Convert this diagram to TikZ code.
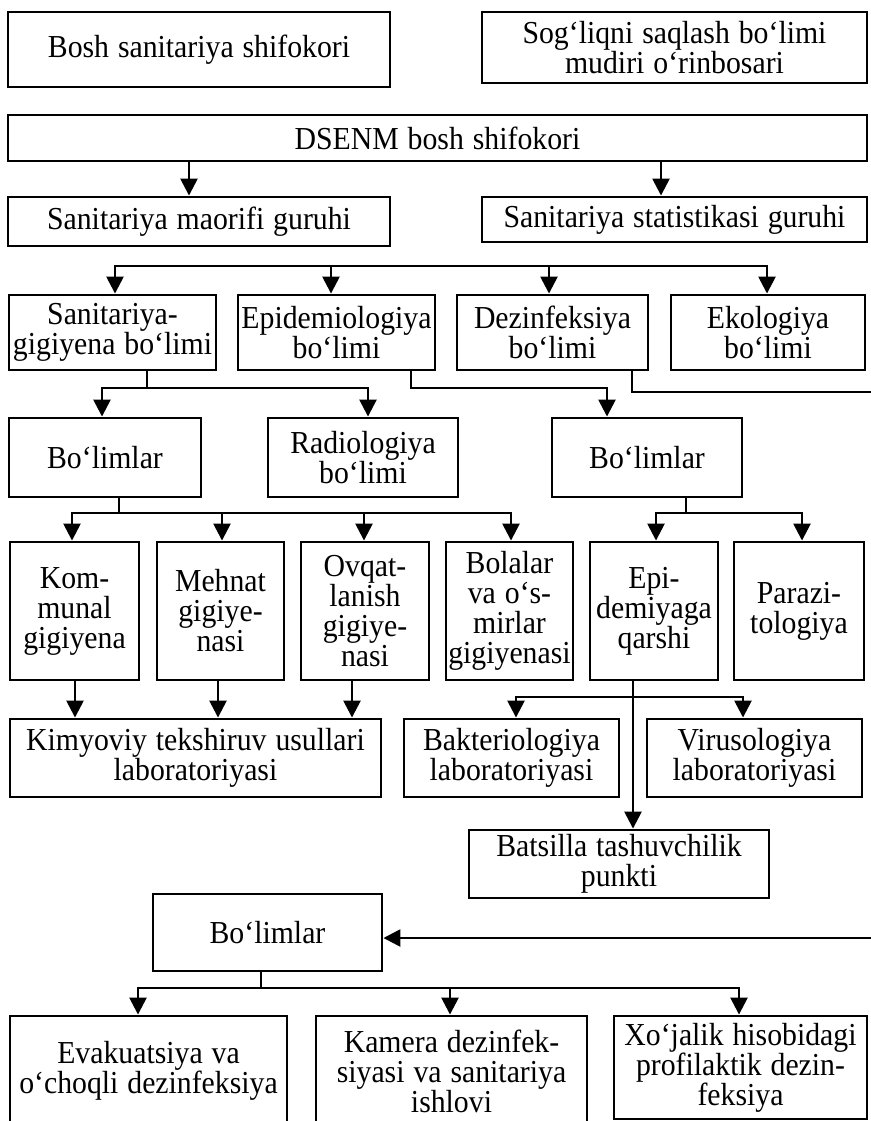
\documentclass[tikz,border=0pt]{standalone}
\usepackage{fontspec}
\setmainfont{Liberation Serif}[WordSpace=1.2,FakeStretch=0.93]
\usetikzlibrary{arrows.meta}
\begin{document}
\begin{tikzpicture}[x=1pt,y=-1pt,
  every node/.style={font=\fontsize{32}{30}\selectfont},
  box/.style={draw,line width=2.9pt,inner sep=0pt,align=center},
  conn/.style={line width=2.6pt},
  arr/.style={conn,-{Triangle[length=17pt,width=17pt]}},
  both/.style={conn,{Triangle[length=17pt,width=17pt]}-{Triangle[length=17pt,width=17pt]}}]
\fill[white] (0,0) rectangle (870,1121);
\useasboundingbox (0,0) rectangle (870,1121);
% top
\node[box,minimum width=382,minimum height=75] (A) at (199,49.5) {Bosh sanitariya shifokori};
\node[box,minimum width=385,minimum height=71] (B) at (674.5,47.5) {Sog‘liqni saqlash bo‘limi\\mudiri o‘rinbosari};
\node[box,minimum width=859,minimum height=46] (C) at (437.5,138) {DSENM bosh shifokori};
\node[box,minimum width=382,minimum height=49] (D) at (199,221.5) {Sanitariya maorifi guruhi};
\node[box,minimum width=385,minimum height=45] (E) at (674.5,219.5) {Sanitariya statistikasi guruhi};
% row 2
\node[box,minimum width=207,minimum height=75] (F) at (112.5,332.5) {Sanitariya-\\gigiyena bo‘limi};
\node[box,minimum width=197,minimum height=75] (G) at (336.5,332.5) {Epidemiologiya\\bo‘limi};
\node[box,minimum width=191,minimum height=75] (H) at (552.5,332.5) {Dezinfeksiya\\bo‘limi};
\node[box,minimum width=194,minimum height=75] (I) at (768,332.5) {Ekologiya\\bo‘limi};
% row 3
\node[box,minimum width=192,minimum height=79] (J) at (105,457.5) {Bo‘limlar};
\node[box,minimum width=190,minimum height=79] (K) at (363,457.5) {Radiologiya\\bo‘limi};
\node[box,minimum width=190,minimum height=79] (L) at (647,457.5) {Bo‘limlar};
% row 4
\node[box,minimum width=129,minimum height=138] (M) at (74.5,611) {Kom-\\munal\\gigiyena};
\node[box,minimum width=127,minimum height=138] (N) at (220.5,611) {Mehnat\\gigiye-\\nasi};
\node[box,minimum width=128,minimum height=138] (O) at (365,611) {Ovqat-\\lanish\\gigiye-\\nasi};
\node[box,minimum width=127,minimum height=138] (P) at (509.5,611) {Bolalar\\va o‘s-\\mirlar\\gigiyenasi};
\node[box,minimum width=128,minimum height=138] (Q) at (654,611) {Epi-\\demiyaga\\qarshi};
\node[box,minimum width=130,minimum height=138] (R) at (799,611) {Parazi-\\tologiya};
% row 5
\node[box,minimum width=371,minimum height=78] (S) at (195.5,758) {Kimyoviy tekshiruv usullari\\laboratoriyasi};
\node[box,minimum width=215,minimum height=78] (T) at (511.5,758) {Bakteriologiya\\laboratoriyasi};
\node[box,minimum width=215,minimum height=78] (U) at (754.5,758) {Virusologiya\\laboratoriyasi};
\node[box,minimum width=300,minimum height=68] (V) at (619,864) {Batsilla tashuvchilik\\punkti};
\node[box,minimum width=229,minimum height=77] (W) at (267.5,932.5) {Bo‘limlar};
% bottom row
\node[box,minimum width=277,minimum height=110] (X) at (148.5,1071) {Evakuatsiya va\\o‘choqli dezinfeksiya};
\node[box,minimum width=271,minimum height=110] (Y) at (451.5,1071) {Kamera dezinfek-\\siyasi va sanitariya\\ishlovi};
\node[box,minimum width=253,minimum height=103] (Z) at (740.5,1067.5) {Xo‘jalik hisobidagi\\profilaktik dezin-\\feksiya};
% junction coordinates
\coordinate (b1) at (115,266);
\coordinate (b2) at (331,266);
\coordinate (b3) at (549,266);
\coordinate (b4) at (767,266);
\coordinate (f0) at (147,388);
\coordinate (f1) at (102,388);
\coordinate (f2) at (368,388);
\coordinate (g1) at (411,388);
\coordinate (g2) at (607,388);
\coordinate (h1) at (632,392);
\coordinate (h2) at (876,392);
\coordinate (h3) at (876,938);
\coordinate (j0) at (119,513);
\coordinate (j1) at (72,513);
\coordinate (j2) at (222,513);
\coordinate (j3) at (364,513);
\coordinate (j4) at (511,513);
\coordinate (l0) at (686,513);
\coordinate (l1) at (656,513);
\coordinate (l2) at (802,513);
\coordinate (q1) at (516,697);
\coordinate (q2) at (743,697);
\coordinate (w0) at (261,988);
\coordinate (w1) at (138,988);
\coordinate (w2) at (450,988);
\coordinate (w3) at (739,988);
% connectors
\draw[arr] (C.south -| 189,0) -- (D.north -| 189,0);
\draw[arr] (C.south -| 661,0) -- (E.north -| 661,0);
\draw[both] (b1 |- F.north) -- (b1) -- (b4) -- (b4 |- I.north);
\draw[arr] (b2) -- (b2 |- G.north);
\draw[arr] (b3) -- (b3 |- H.north);
\draw[conn] (F.south -| f0) -- (f0);
\draw[both] (f1 |- J.north) -- (f1) -- (f2) -- (f2 |- K.north);
\draw[arr] (G.south -| g1) -- (g1) -- (g2) -- (g2 |- L.north);
\draw[arr] (H.south -| h1) -- (h1) -- (h2) -- (h3) -- (W.east |- h3);
\draw[conn] (J.south -| j0) -- (j0);
\draw[both] (j1 |- M.north) -- (j1) -- (j4) -- (j4 |- P.north);
\draw[arr] (j2) -- (j2 |- N.north);
\draw[arr] (j3) -- (j3 |- O.north);
\draw[conn] (L.south -| l0) -- (l0);
\draw[both] (l1 |- Q.north) -- (l1) -- (l2) -- (l2 |- R.north);
\draw[arr] (M.south -| 75,0) -- (S.north -| 75,0);
\draw[arr] (N.south -| 218,0) -- (S.north -| 218,0);
\draw[arr] (O.south -| 352,0) -- (S.north -| 352,0);
\draw[arr] (Q.south -| 633,0) -- (V.north -| 633,0);
\draw[both] (q1 |- T.north) -- (q1) -- (q2) -- (q2 |- U.north);
\draw[conn] (W.south -| w0) -- (w0);
\draw[both] (w1 |- X.north) -- (w1) -- (w3) -- (w3 |- Z.north);
\draw[arr] (w2) -- (w2 |- Y.north);
\end{tikzpicture}
\end{document}
